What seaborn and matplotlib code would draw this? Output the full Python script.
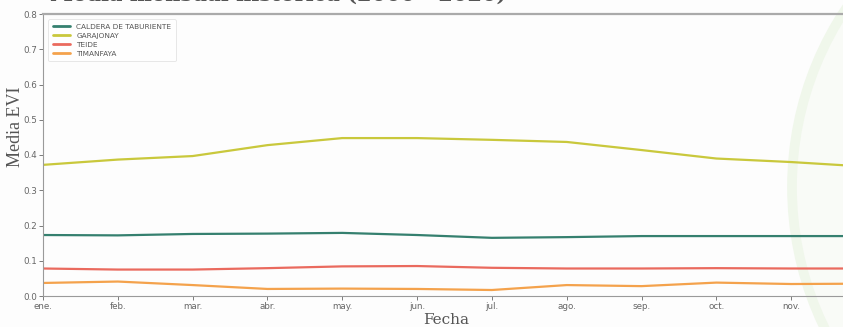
"""Media mensual histórica del EVI por parque nacional."""

import matplotlib.pyplot as plt
import pandas as pd
import seaborn as sns
from matplotlib.patches import Circle
from matplotlib.transforms import IdentityTransform

meses = ["ene.", "feb.", "mar.", "abr.", "may.", "jun.",
         "jul.", "ago.", "sep.", "oct.", "nov.", "dic."]
caldera = [0.173, 0.172, 0.176, 0.177, 0.179, 0.173,
           0.165, 0.167, 0.170, 0.170, 0.170, 0.170]
garajonay = [0.372, 0.387, 0.397, 0.428, 0.448, 0.448,
             0.443, 0.437, 0.414, 0.390, 0.380, 0.367]
teide = [0.078, 0.075, 0.075, 0.079, 0.084, 0.085,
         0.080, 0.078, 0.078, 0.079, 0.078, 0.078]
timanfaya = [0.037, 0.041, 0.031, 0.020, 0.021, 0.020,
             0.017, 0.031, 0.028, 0.038, 0.034, 0.035]

parques = ["CALDERA DE TABURIENTE", "GARAJONAY", "TEIDE", "TIMANFAYA"]
colores = ["#35806f", "#c9c83c", "#ea6a5e", "#f4a24c"]

df = pd.DataFrame({
    "mes": list(range(12)) * 4,
    "evi": caldera + garajonay + teide + timanfaya,
    "parque": [p for p in parques for _ in range(12)],
})

sns.set_theme(style="white")
plt.rcParams["font.family"] = ["DejaVu Sans"]

fig = plt.figure(figsize=(8.43, 3.27), dpi=100, facecolor="#fdfdfd")
ax = fig.add_axes([43 / 843, 31 / 327, 823 / 843, 282 / 327])
ax.set_facecolor("none")

# marca de agua verde a la derecha
fig.add_artist(Circle((1114, 140), 322, transform=IdentityTransform(),
                      facecolor="#f9fbf7", edgecolor="#f0f7eb",
                      linewidth=7, zorder=-5))

sns.lineplot(data=df, x="mes", y="evi", hue="parque",
             palette=dict(zip(parques, colores)), linewidth=1.6, ax=ax)

ax.set_xlim(0, 11)
ax.set_ylim(0, 0.8)
ax.set_xticks(range(12))
ax.set_xticklabels(meses)
ax.set_yticks([0.0, 0.1, 0.2, 0.3, 0.4, 0.5, 0.6, 0.7, 0.8])
ax.tick_params(axis="both", labelsize=6.3, colors="#666666", length=3,
               width=0.6, bottom=True, left=True, pad=1.5)

for side in ["left", "bottom"]:
    ax.spines[side].set_color("#9a9a9a")
    ax.spines[side].set_linewidth(0.8)
ax.spines["top"].set_color("#aaaaaa")
ax.spines["top"].set_linewidth(1.6)
ax.spines["right"].set_visible(False)

ax.set_xlabel("Fecha", family="DejaVu Serif", fontsize=11, color="#555555")
ax.set_ylabel("Media EVI", family="Liberation Serif", fontsize=13,
              color="#555555")
ax.yaxis.set_label_coords(-0.0235, 0.6)
ax.xaxis.set_label_coords(0.49, -0.06)

leg = ax.legend(loc="upper left", fontsize=5.3, frameon=True,
                handlelength=2.3, borderpad=0.6, labelspacing=0.4,
                handletextpad=0.9, bbox_to_anchor=(0.002, 0.995))
leg.get_frame().set_edgecolor("#dddddd")
leg.get_frame().set_linewidth(0.6)
for txt in leg.get_texts():
    txt.set_color("#555555")
for line in leg.get_lines():
    line.set_linewidth(2)

fig.text(50 / 843, 1 - 1 / 327, "Media mensual histórica (2000 - 2020)",
         family="DejaVu Serif", fontsize=15, fontweight="bold",
         color="#555555", va="baseline")

fig.savefig("out.png", dpi=100, facecolor=fig.get_facecolor())
